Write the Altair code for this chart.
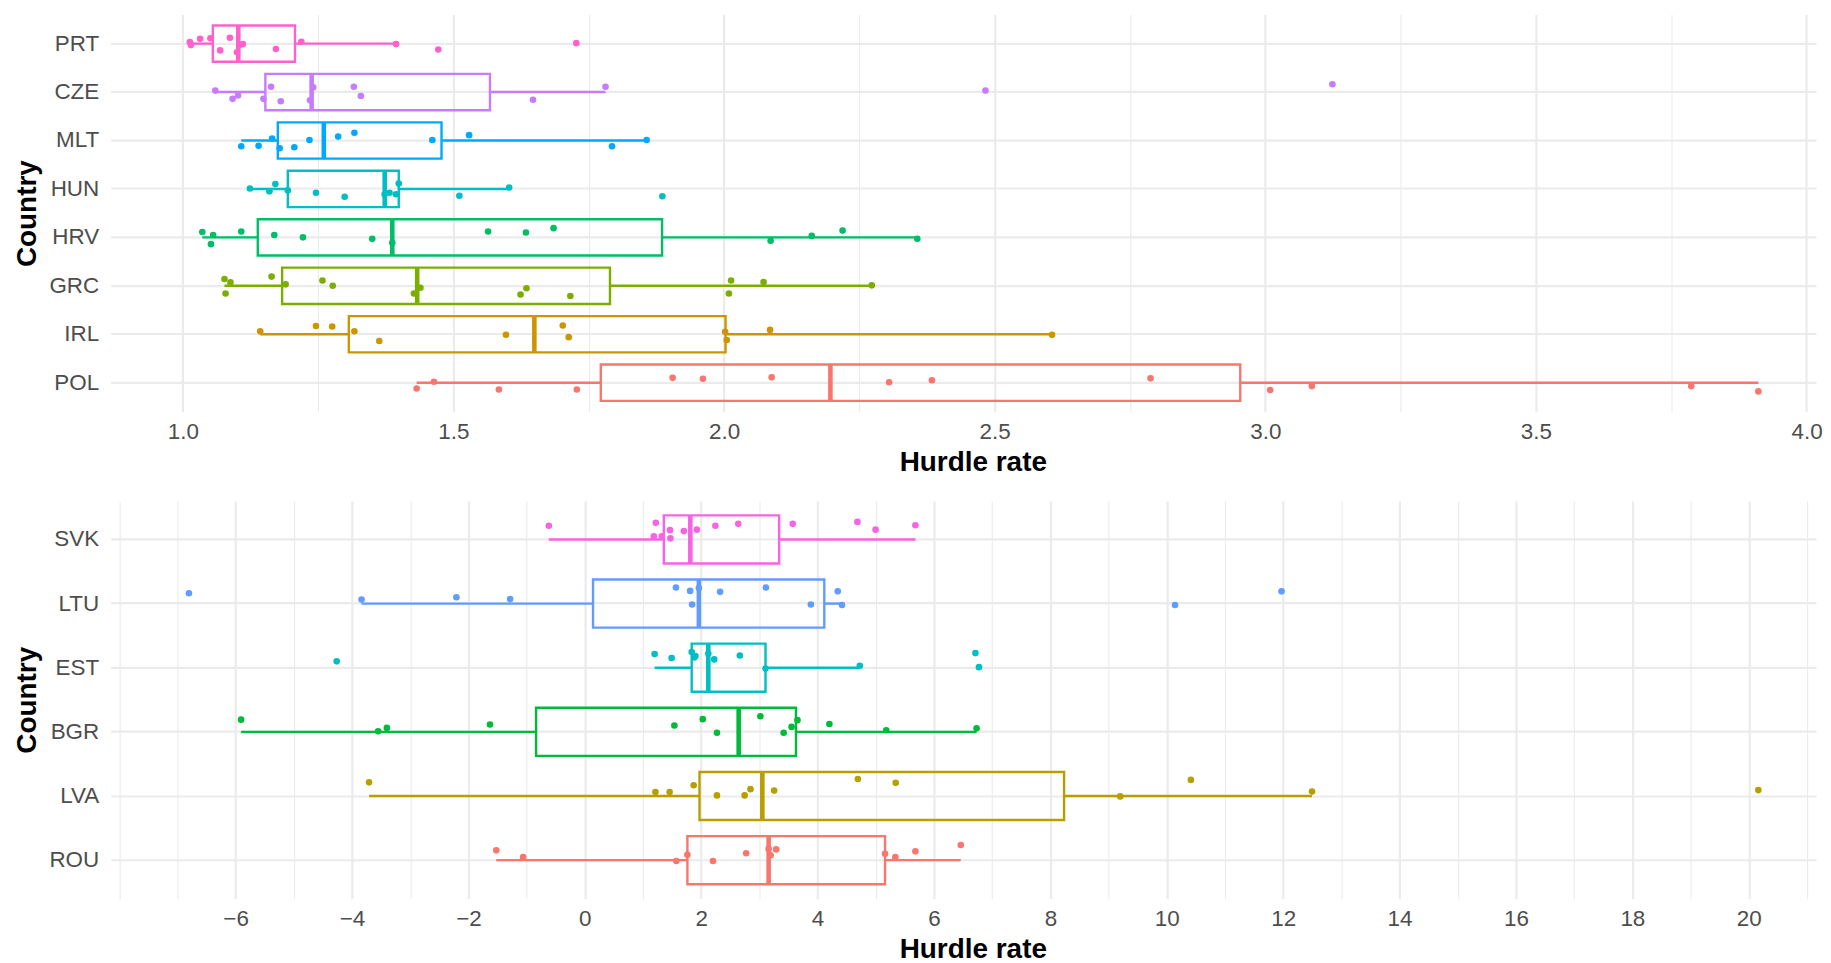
import altair as alt
import pandas as pd

# ---------------- data: top panel ----------------
top_order = ["PRT", "CZE", "MLT", "HUN", "HRV", "GRC", "IRL", "POL"]
top_colors = ["#FF61CC", "#C77CFF", "#00A9FF", "#00BFC4", "#00BE67", "#7CAE00", "#CD9600", "#F8766D"]

prt_rate = [1.013, 1.015, 1.032, 1.051, 1.069, 1.087, 1.100, 1.105, 1.111, 1.172, 1.219, 1.394, 1.472, 1.727]
prt_jit = [-0.03, 0.03, -0.10, -0.11, 0.14, -0.12, 0.18, 0.03, 0.01, 0.11, -0.04, 0.01, 0.12, -0.01]
cze_rate = [1.060, 1.092, 1.102, 1.149, 1.163, 1.181, 1.235, 1.241, 1.316, 1.329, 1.647, 1.781, 2.483, 3.124]
cze_jit = [-0.03, 0.14, 0.07, 0.14, -0.11, 0.19, 0.17, -0.10, -0.11, 0.08, 0.16, -0.11, -0.03, -0.16]
mlt_rate = [1.108, 1.140, 1.165, 1.179, 1.206, 1.234, 1.287, 1.317, 1.461, 1.529, 1.793, 1.857]
mlt_jit = [0.12, 0.11, -0.04, 0.16, 0.14, -0.01, -0.08, -0.16, -0.01, -0.11, 0.12, -0.01]
hun_rate = [1.124, 1.160, 1.171, 1.194, 1.246, 1.299, 1.373, 1.382, 1.394, 1.399, 1.511, 1.603, 1.886]
hun_jit = [-0.01, 0.05, -0.10, 0.03, 0.08, 0.16, 0.11, 0.08, 0.11, -0.11, 0.14, -0.03, 0.15]
hrv_rate = [1.036, 1.052, 1.056, 1.108, 1.169, 1.222, 1.350, 1.387, 1.564, 1.634, 1.685, 2.086, 2.162, 2.219, 2.357]
hrv_jit = [-0.11, 0.14, -0.05, -0.12, -0.05, 0.0, 0.03, 0.11, -0.12, -0.10, -0.19, 0.07, -0.03, -0.14, 0.03]
grc_rate = [1.077, 1.079, 1.088, 1.164, 1.190, 1.258, 1.277, 1.427, 1.439, 1.624, 1.635, 1.716, 2.009, 2.013, 2.073, 2.273]
grc_jit = [-0.14, 0.16, -0.07, -0.19, -0.03, -0.11, 0.0, 0.16, 0.04, 0.18, 0.05, 0.21, 0.16, -0.11, -0.08, -0.01]
irl_rate = [1.143, 1.246, 1.276, 1.317, 1.363, 1.597, 1.702, 1.713, 2.002, 2.005, 2.085, 2.606]
irl_jit = [-0.06, -0.17, -0.16, -0.06, 0.14, 0.01, -0.18, 0.06, -0.05, 0.12, -0.09, 0.01]
pol_rate = [1.432, 1.464, 1.584, 1.728, 1.905, 1.961, 2.088, 2.305, 2.384, 2.788, 3.009, 3.086, 3.787, 3.911]
pol_jit = [0.12, -0.02, 0.14, 0.14, -0.10, -0.08, -0.11, -0.01, -0.05, -0.09, 0.15, 0.07, 0.07, 0.18]

top_major = [1.0, 1.5, 2.0, 2.5, 3.0, 3.5, 4.0]
top_minor = [1.25, 1.75, 2.25, 2.75, 3.25, 3.75]

# ---------------- data: bottom panel ----------------
bot_order = ["SVK", "LTU", "EST", "BGR", "LVA", "ROU"]
bot_colors = ["#F564E3", "#619CFF", "#00BFC4", "#00BA38", "#B79F00", "#F8766D"]

svk_rate = [-0.618, 1.186, 1.220, 1.322, 1.464, 1.471, 1.702, 1.925, 2.244, 2.637, 3.573, 4.685, 4.997, 5.681]
svk_jit = [-0.12, 0.10, -0.18, 0.10, -0.03, 0.14, -0.01, -0.04, -0.12, -0.16, -0.16, -0.20, -0.04, -0.13]
ltu_rate = [-6.802, -3.836, -2.206, -1.283, 1.566, 1.810, 1.844, 1.960, 2.325, 3.112, 3.885, 4.346, 4.420, 10.142, 11.972]
ltu_jit = [-0.05, 0.08, 0.03, 0.07, -0.17, -0.10, 0.18, -0.16, -0.08, -0.17, 0.18, -0.09, 0.19, 0.19, -0.09]
est_rate = [-4.263, 1.200, 1.492, 1.837, 1.880, 1.900, 2.122, 2.224, 2.664, 3.105, 4.725, 6.712, 6.773]
est_jit = [0.03, -0.12, -0.04, -0.16, -0.05, -0.08, -0.13, -0.01, -0.09, 0.18, 0.12, -0.14, 0.15]
bgr_rate = [-5.906, -3.551, -3.401, -1.629, 1.539, 2.027, 2.271, 3.017, 3.417, 3.553, 3.654, 4.203, 5.180, 6.732]
bgr_jit = [-0.09, 0.15, 0.08, 0.01, 0.03, -0.10, 0.18, -0.16, 0.18, 0.06, -0.08, 0.0, 0.13, 0.09]
lva_rate = [-3.707, 1.214, 1.458, 1.871, 2.271, 2.746, 2.847, 3.254, 4.692, 5.342, 9.200, 10.414, 12.496, 20.165]
lva_jit = [-0.12, 0.08, 0.08, -0.06, 0.15, 0.15, 0.02, 0.05, -0.19, -0.11, 0.17, -0.17, 0.07, 0.04]
rou_rate = [-1.521, -1.059, 1.573, 1.763, 2.203, 2.773, 3.159, 3.193, 3.288, 5.159, 5.336, 5.681, 6.461]
rou_jit = [-0.04, 0.10, 0.18, 0.05, 0.18, 0.02, -0.07, 0.06, -0.06, 0.03, 0.10, -0.02, -0.15]

bot_major = [-6, -4, -2, 0, 2, 4, 6, 8, 10, 12, 14, 16, 18, 20]
bot_minor = [-8, -7, -5, -3, -1, 1, 3, 5, 7, 9, 11, 13, 15, 17, 19, 21]


def frame(groups):
    rows = []
    for country, rates, jits in groups:
        for r, j in zip(rates, jits):
            rows.append({"country": country, "rate": r, "jit": j})
    return pd.DataFrame(rows)


top_df = frame([
    ("PRT", prt_rate, prt_jit), ("CZE", cze_rate, cze_jit), ("MLT", mlt_rate, mlt_jit),
    ("HUN", hun_rate, hun_jit), ("HRV", hrv_rate, hrv_jit), ("GRC", grc_rate, grc_jit),
    ("IRL", irl_rate, irl_jit), ("POL", pol_rate, pol_jit),
])
bot_df = frame([
    ("SVK", svk_rate, svk_jit), ("LTU", ltu_rate, ltu_jit), ("EST", est_rate, est_jit),
    ("BGR", bgr_rate, bgr_jit), ("LVA", lva_rate, lva_jit), ("ROU", rou_rate, rou_jit),
])

FONT = "Liberation Sans"
GRID = "#EBEBEB"
PLOT_W = 1711
LW = 2.4


def panel(df, order, colors, xdom, major, minor, fmt, height):
    n = len(order)
    step = height / (n + 0.2)
    major_js = "[" + ",".join(str(v) for v in major) + "]"
    is_major = f"indexof({major_js}, datum.value) >= 0"

    xscale = alt.Scale(domain=xdom, nice=False, zero=False)
    xaxis = alt.Axis(
        values=sorted(major + minor), format=fmt, labelFlush=False,
        labelExpr=f"{is_major} ? datum.label : ''",
        grid=True, gridColor=GRID,
        gridWidth={"condition": {"test": is_major, "value": 2.2}, "value": 1.1},
        ticks=False, domain=False,
        labelFont=FONT, labelFontSize=22.5, labelColor="#4D4D4D", labelPadding=9,
        title="Hurdle rate", titleFont=FONT, titleFontSize=28, titleFontWeight="bold",
        titleColor="black", titleX=865, titleY=51, titleBaseline="middle", titleAlign="center",
    )
    yaxis = alt.Axis(
        grid=True, gridColor=GRID, gridWidth=2.2, bandPosition=0.5,
        ticks=False, domain=False,
        labelFont=FONT, labelFontSize=22.5, labelColor="#4D4D4D", labelPadding=12,
        title="Country", titleFont=FONT, titleFontSize=28, titleFontWeight="bold",
        titleColor="black", titleX=-83, titleY=height / 2, titleAngle=-90,
        titleBaseline="middle", titleAlign="center",
    )

    def X(field):
        return alt.X(field, type="quantitative", scale=xscale, axis=xaxis)

    y = alt.Y("country:N", sort=order,
              scale=alt.Scale(domain=order, paddingInner=0, paddingOuter=0.1), axis=yaxis)
    cscale = alt.Scale(domain=order, range=colors)
    color = alt.Color("country:N", scale=cscale, legend=None)

    base = alt.Chart(df)
    stats = base.transform_joinaggregate(
        q1="q1(rate)", q3="q3(rate)", med="median(rate)", groupby=["country"]
    ).transform_calculate(
        lo="datum.q1 - 1.5 * (datum.q3 - datum.q1)",
        hi="datum.q3 + 1.5 * (datum.q3 - datum.q1)",
    ).transform_filter(
        "datum.rate >= datum.lo && datum.rate <= datum.hi"
    ).transform_aggregate(
        wmin="min(rate)", wmax="max(rate)", groupby=["country", "q1", "q3", "med"]
    )

    w_lo = stats.mark_rule(strokeWidth=LW).encode(x=X("wmin"), x2="q1:Q", y=y, color=color)
    w_hi = stats.mark_rule(strokeWidth=LW).encode(x=X("q3"), x2="wmax:Q", y=y, color=color)
    box = stats.mark_bar(fillOpacity=0, strokeWidth=LW, size=0.75 * step).encode(
        x=X("q1"), x2="q3:Q", y=y,
        stroke=alt.Stroke("country:N", scale=cscale, legend=None),
        fill=alt.value("white"),
    )
    med = stats.mark_tick(thickness=4.6, size=0.75 * step, opacity=1).encode(
        x=X("med"), y=y, color=color
    )
    pts = base.mark_circle(size=44, opacity=1).encode(
        x=X("rate"), y=y,
        yOffset=alt.YOffset("jit:Q", scale=alt.Scale(domain=[-0.5, 0.5])),
        color=color,
    )
    return alt.layer(w_lo, w_hi, box, med, pts).properties(
        width=PLOT_W, height=height,
        view=alt.ViewBackground(stroke="transparent", strokeWidth=0),
    )


top = panel(top_df, top_order, top_colors, [0.8667, 4.0175], top_major, top_minor, ".1f", 398.5)
bot = panel(bot_df, bot_order, bot_colors, [-8.147, 21.156], bot_major, bot_minor, "d", 399)

chart = alt.vconcat(top, bot, spacing=24).resolve_scale(
    color="independent", stroke="independent", x="independent", y="independent"
).properties(
    padding={"left": 6, "top": 5, "right": 0, "bottom": 0}
).configure_view(strokeWidth=0, stroke="transparent").configure(font=FONT)

chart.save("out.html", embed_options={"renderer": "svg", "actions": False})
